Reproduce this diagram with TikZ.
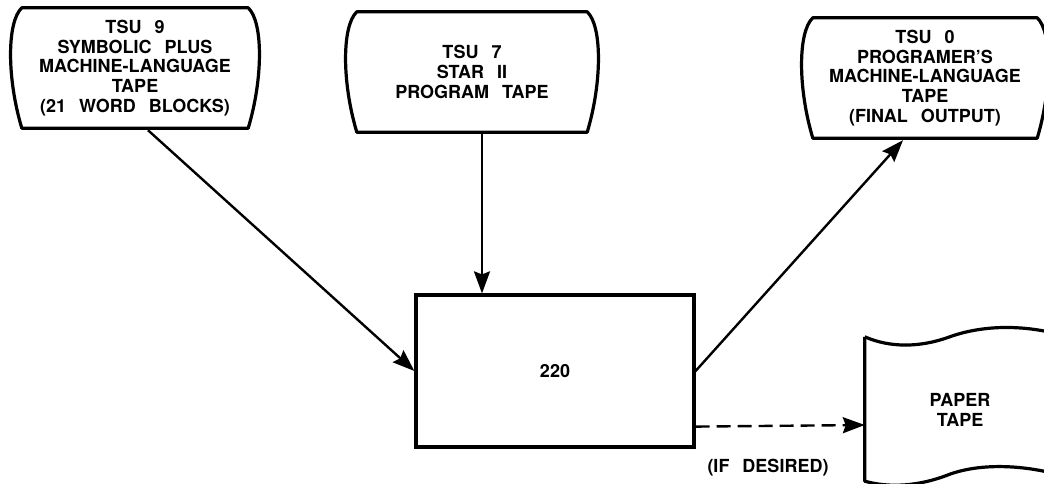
\documentclass[tikz,border=0pt]{standalone}
\usepackage{fontspec}
\setmainfont[WordSpace=2.6]{TeX Gyre Heros}
\usetikzlibrary{arrows.meta,calc}
\tikzset{
  lbl/.style={font=\fontsize{18}{19.8}\selectfont\bfseries, align=center, inner sep=0pt},
  tapebox/.style={lbl, minimum width=#1, minimum height=120pt},
  outline/.style={line width=3.2pt, line join=round},
  arr/.style={line width=2.4pt, -{Stealth[length=22pt,width=16pt,inset=3pt]}},
  dasharr/.style={arr, dash pattern=on 14pt off 7pt}
}
\begin{document}
\begin{tikzpicture}[x=1pt,y=-1pt]
\useasboundingbox (0,0) rectangle (1044,484);
\clip (0,0) rectangle (1044,484);
% nodes
\node[tapebox=226pt] (tsu9) at (135,68) {TSU 9\\SYMBOLIC PLUS\\MACHINE-LANGUAGE\\TAPE\\(21 WORD BLOCKS)};
\node[tapebox=230pt] (tsu7) at (472,72) {TSU 7\\STAR II\\PROGRAM TAPE};
\node[tapebox=224pt] (tsu0) at (925,78) {TSU 0\\PROGRAMER'S\\MACHINE-LANGUAGE\\TAPE\\(FINAL OUTPUT)};
\node[lbl, draw, line width=3.2pt, minimum width=278pt, minimum height=152pt] (box220) at (555,371) {220};
\node[lbl, minimum width=190pt, minimum height=140pt] (paper) at (960,410) {PAPER\\TAPE};
\node[lbl] (ifdes) at (768,468) {(IF DESIRED)};
% tape outlines
\foreach \n in {tsu9,tsu7,tsu0}{
  \draw[outline] (\n.north west) -- (\n.north east)
    .. controls ($(\n.north east)+(15,14)$) and ($(\n.south east)+(15,-50)$) .. (\n.south east)
    -- (\n.south west)
    .. controls ($(\n.south west)+(-15,-50)$) and ($(\n.north west)+(-15,14)$) .. (\n.north west) -- cycle;
}
% paper tape outline
\draw[outline] ($(paper.north west)+(0,-3)$)
  .. controls ($(paper.north west)+(25,8)$) and ($(paper.north west)+(55,8)$) .. ($(paper.north west)+(85,-3)$)
  .. controls ($(paper.north west)+(110,-12)$) and ($(paper.north west)+(150,-18)$) .. ($(paper.north west)+(200,-4)$);
\draw[outline] ($(paper.north west)+(0,-3)$) -- ($(paper.south west)+(0,1)$)
  .. controls ($(paper.south west)+(25,8)$) and ($(paper.south west)+(55,6)$) .. ($(paper.south west)+(85,-6)$)
  .. controls ($(paper.south west)+(110,-15)$) and ($(paper.south west)+(150,-18)$) .. ($(paper.south west)+(200,-4)$);
% connectors
\coordinate (t9out) at ($(tsu9.south)+(13,2)$);
\coordinate (t7out) at ($(tsu7.south)+(10,2)$);
\coordinate (t0in) at ($(tsu0.south)+(-22,2)$);
\coordinate (dashfrom) at ($(box220.south east)+(0,-22)$);
\coordinate (dashto) at ($(paper.west)+(0,15)$);
\draw[arr] (t9out) -- (box220.west);
\draw[arr] (t7out) -- (t7out |- box220.north);
\draw[arr] (box220.east) -- (t0in);
\draw[dasharr] (dashfrom) -- (dashto);
\end{tikzpicture}
\end{document}
